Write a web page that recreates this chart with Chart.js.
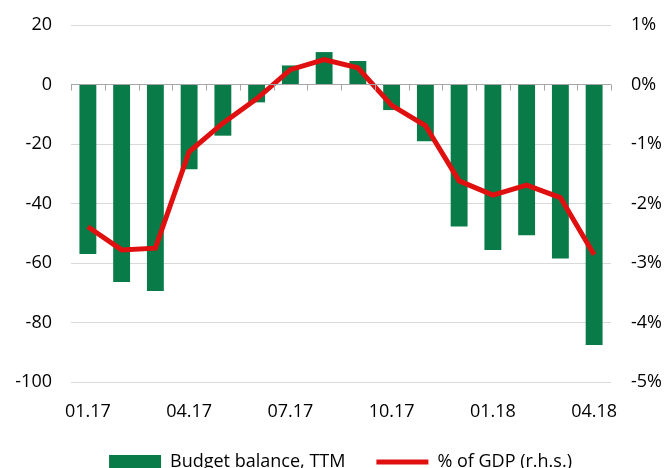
<!DOCTYPE html>
<html>
<head>
<meta charset="utf-8">
<script src="https://cdn.jsdelivr.net/npm/chart.js@4.4.1/dist/chart.umd.min.js"></script>
<style>
  html, body { margin: 0; padding: 0; background: #fff; overflow: hidden; }
  #wrap { width: 665px; height: 481px; }
</style>
</head>
<body>
<div id="wrap"><canvas id="budgetChart" width="665" height="481"></canvas></div>
<script>
// Budget balance chart, monthly 01.17 - 04.18
const months = ['01.17', '02.17', '03.17', '04.17', '05.17', '06.17', '07.17', '08.17',
                '09.17', '10.17', '11.17', '12.17', '01.18', '02.18', '03.18', '04.18'];
const shownLabels = ['01.17', '04.17', '07.17', '10.17', '01.18', '04.18'];
const budgetBalance = [-57, -66.4, -69.4, -28.5, -17.2, -6, 6.4, 10.9,
                       7.9, -8.6, -19.1, -47.7, -55.6, -50.7, -58.5, -87.6];
const pctOfGdp = [-2.39, -2.78, -2.75, -1.13, -0.65, -0.24, 0.25, 0.42,
                  0.28, -0.35, -0.69, -1.62, -1.86, -1.69, -1.9, -2.86];

const GREEN = '#087b48';
const RED = '#e01010';
const FONT = '"Open Sans", "DejaVu Sans", sans-serif';

// Excel style axis: line at zero with small tick marks between categories
const zeroAxis = {
    id: 'zeroAxis',
    afterDatasetsDraw(chart) {
        const x = chart.scales.x, y = chart.scales.y;
        const y0 = Math.round(y.getPixelForValue(0)) + 0.5;
        const c = chart.ctx;
        c.save();
        c.strokeStyle = '#a6a6a6';
        c.lineWidth = 1;
        c.beginPath();
        c.moveTo(x.left, y0);
        c.lineTo(x.right, y0);
        for (let i = 0; i <= months.length; i++) {
            const px = Math.round(i === months.length ? x.right : x.getPixelForValue(i) - x.width / months.length / 2) + 0.5;
            c.moveTo(px, y0);
            c.lineTo(px, y0 + 6);
        }
        c.stroke();
        c.restore();
    }
};

// fixed widths, no label overflow padding on the value axes
function fixAxis(w) {
    return function (s) {
        s.width = w;
        s.paddingTop = 0;
        s.paddingBottom = 0;
    };
}

new Chart(document.getElementById('budgetChart'), {
    type: 'bar',
    data: {
        labels: months,
        datasets: [{
            type: 'line',
            label: '% of GDP (r.h.s.)',
            data: pctOfGdp,
            yAxisID: 'y1',
            borderColor: RED,
            backgroundColor: RED,
            borderWidth: 5,
            pointRadius: 0,
            tension: 0,
            pointStyle: 'line',
            order: 0
        }, {
            label: 'Budget balance, TTM',
            data: budgetBalance,
            yAxisID: 'y',
            backgroundColor: GREEN,
            borderWidth: 0,
            categoryPercentage: 1,
            barPercentage: 0.5,
            pointStyle: 'rect',
            order: 1
        }]
    },
    options: {
        responsive: false,
        animation: false,
        layout: { padding: { top: 25, left: 16, right: 0, bottom: 0 } },
        plugins: {
            tooltip: { enabled: false },
            legend: {
                position: 'bottom',
                reverse: true,
                labels: {
                    usePointStyle: true,
                    pointStyleWidth: 52,
                    boxHeight: 14,
                    padding: 31,
                    color: '#000',
                    font: { family: FONT, size: 18 }
                }
            }
        },
        scales: {
            x: {
                grid: { display: false, drawTicks: false },
                border: { display: false },
                ticks: {
                    color: '#000',
                    padding: 19,
                    maxRotation: 0,
                    autoSkip: false,
                    font: { family: FONT, size: 18 },
                    callback: function (v) {
                        const lab = months[v];
                        return shownLabels.includes(lab) ? lab : '';
                    }
                },
                afterFit: function (s) { s.height = 40; }
            },
            y: {
                position: 'left',
                min: -100,
                max: 20,
                grid: { color: '#d9d9d9', drawTicks: false },
                border: { display: false },
                ticks: {
                    stepSize: 20,
                    padding: 19,
                    color: '#000',
                    font: { family: FONT, size: 18 }
                },
                afterFit: fixAxis(55)
            },
            y1: {
                position: 'right',
                min: -5,
                max: 1,
                grid: { display: false, drawTicks: false },
                border: { display: false },
                ticks: {
                    stepSize: 1,
                    padding: 20,
                    color: '#000',
                    font: { family: FONT, size: 18 },
                    callback: function (v) { return v + '%'; }
                },
                afterFit: fixAxis(54)
            }
        }
    },
    plugins: [zeroAxis]
});
</script>
</body>
</html>
